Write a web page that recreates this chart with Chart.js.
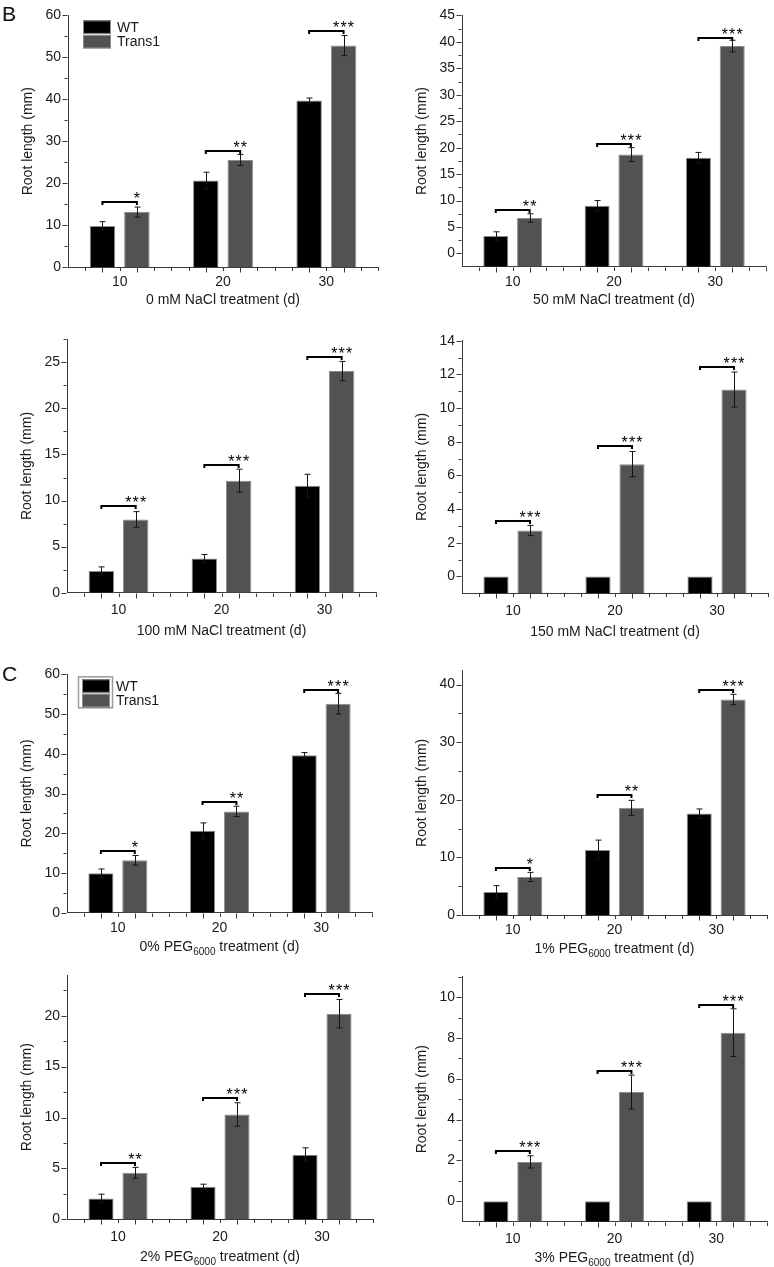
<!DOCTYPE html>
<html><head><meta charset="utf-8">
<script src="https://cdn.jsdelivr.net/npm/chart.js@4.4.0/dist/chart.umd.min.js"></script>
<style>
html,body{margin:0;padding:0;background:#fff;}
#wrap{position:relative;width:774px;height:1267px;overflow:hidden;background:#fff;}
canvas{position:absolute;left:0;top:0;}
.lbl{position:absolute;font-family:'Liberation Sans',Arial,sans-serif;font-size:21px;color:#111;line-height:1;}
</style></head><body><div id="wrap">
<div class="lbl" style="left:2px;top:3px">B</div>
<div class="lbl" style="left:2px;top:663px">C</div>
</div>
<script>
// ---------- data ----------
const categories = ['10', '20', '30'];
const seriesNames = ['WT', 'Trans1'];

// B: NaCl treatments
const wt_nacl0 = [9.8, 20.6, 39.7];
const wtErr_nacl0 = [1.0, 2.0, 0.6];
const tr_nacl0 = [13.1, 25.5, 52.8];
const trErr_nacl0 = [1.2, 1.3, 2.4];
const sig_nacl0 = ['*', '**', '***'];
const bracket_nacl0 = [15.5, 27.6, 56.3];
const yTicks_nacl0 = [0, 10, 20, 30, 40, 50, 60];

const wt_nacl50 = [3.3, 9.0, 18.1];
const wtErr_nacl50 = [0.8, 1.0, 1.0];
const tr_nacl50 = [6.7, 18.7, 39.2];
const trErr_nacl50 = [0.8, 1.3, 1.1];
const sig_nacl50 = ['**', '***', '***'];
const bracket_nacl50 = [8.3, 20.6, 40.8];
const yTicks_nacl50 = [0, 5, 10, 15, 20, 25, 30, 35, 40, 45];

const wt_nacl100 = [2.35, 3.7, 11.6];
const wtErr_nacl100 = [0.45, 0.45, 1.25];
const tr_nacl100 = [7.95, 12.15, 24.05];
const trErr_nacl100 = [0.85, 1.25, 1.05];
const sig_nacl100 = ['***', '***', '***'];
const bracket_nacl100 = [9.4, 13.9, 25.6];
const yTicks_nacl100 = [0, 5, 10, 15, 20, 25];

const wt_nacl150 = [0, 0, 0];
const wtErr_nacl150 = [0, 0, 0];
const tr_nacl150 = [2.73, 6.67, 11.1];
const trErr_nacl150 = [0.3, 0.75, 1.04];
const sig_nacl150 = ['***', '***', '***'];
const bracket_nacl150 = [3.32, 7.73, 12.46];
const yTicks_nacl150 = [0, 2, 4, 6, 8, 10, 12, 14];

// C: PEG6000 treatments
const wt_peg0 = [9.9, 20.6, 39.6];
const wtErr_peg0 = [1.1, 2.0, 0.7];
const tr_peg0 = [13.2, 25.5, 52.6];
const trErr_peg0 = [1.2, 1.3, 2.6];
const sig_peg0 = ['*', '**', '***'];
const bracket_peg0 = [15.6, 27.9, 56.1];
const yTicks_peg0 = [0, 10, 20, 30, 40, 50, 60];

const wt_peg1 = [4.0, 11.3, 17.6];
const wtErr_peg1 = [1.1, 1.7, 0.8];
const tr_peg1 = [6.6, 18.6, 37.4];
const trErr_peg1 = [0.8, 1.3, 0.9];
const sig_peg1 = ['*', '**', '***'];
const bracket_peg1 = [8.1, 20.8, 39.1];
const yTicks_peg1 = [0, 10, 20, 30, 40];

const wt_peg2 = [2.05, 3.2, 6.35];
const wtErr_peg2 = [0.42, 0.25, 0.67];
const tr_peg2 = [4.57, 10.3, 20.2];
const trErr_peg2 = [0.53, 1.15, 1.4];
const sig_peg2 = ['**', '***', '***'];
const bracket_peg2 = [5.55, 11.96, 22.1];
const yTicks_peg2 = [0, 5, 10, 15, 20];

const wt_peg3 = [0, 0, 0];
const wtErr_peg3 = [0, 0, 0];
const tr_peg3 = [1.93, 5.35, 8.26];
const trErr_peg3 = [0.3, 0.83, 1.17];
const sig_peg3 = ['***', '***', '***'];
const bracket_peg3 = [2.46, 6.38, 9.59];
const yTicks_peg3 = [0, 2, 4, 6, 8, 10];

// ---------- panel definitions ----------
const panels = [
  {title: '0 mM NaCl treatment (d)', wt: wt_nacl0, wtErr: wtErr_nacl0, tr: tr_nacl0, trErr: trErr_nacl0, sig: sig_nacl0, br: bracket_nacl0, ticks: yTicks_nacl0, min: 0, max: 60, minor: 5,
   L: 68, R: 378, T: 14, B: 267, xp: 6.6, xh: 41.4, legend: 'plain'},
  {title: '50 mM NaCl treatment (d)', wt: wt_nacl50, wtErr: wtErr_nacl50, tr: tr_nacl50, trErr: trErr_nacl50, sig: sig_nacl50, br: bracket_nacl50, ticks: yTicks_nacl50, min: -2.5, max: 45, minor: 2.5,
   L: 462, R: 766, T: 14.3, B: 266.7, xp: 6.6, xh: 41.4},
  {title: '100 mM NaCl treatment (d)', wt: wt_nacl100, wtErr: wtErr_nacl100, tr: tr_nacl100, trErr: trErr_nacl100, sig: sig_nacl100, br: bracket_nacl100, ticks: yTicks_nacl100, min: 0, max: 27.5, minor: 2.5,
   L: 67, R: 376, T: 339.3, B: 592.7, xp: 9.4, xh: 47},
  {title: '150 mM NaCl treatment (d)', wt: wt_nacl150, wtErr: wtErr_nacl150, tr: tr_nacl150, trErr: trErr_nacl150, sig: sig_nacl150, br: bracket_nacl150, ticks: yTicks_nacl150, min: -1, max: 14, minor: 1,
   L: 462, R: 768, T: 340.7, B: 593.3, xp: 9.4, xh: 47},
  {peg: ['0% PEG', '6000', ' treatment (d)'], wt: wt_peg0, wtErr: wtErr_peg0, tr: tr_peg0, trErr: trErr_peg0, sig: sig_peg0, br: bracket_peg0, ticks: yTicks_peg0, min: 0, max: 60, minor: 5,
   L: 67, R: 372, T: 674.3, B: 912.7, xp: 7, xh: 42.5, legend: 'box'},
  {peg: ['1% PEG', '6000', ' treatment (d)'], wt: wt_peg1, wtErr: wtErr_peg1, tr: tr_peg1, trErr: trErr_peg1, sig: sig_peg1, br: bracket_peg1, ticks: yTicks_peg1, min: 0, max: 42.4, minor: 5,
   L: 462, R: 767, T: 670.7, B: 915, xp: 7, xh: 42.5},
  {peg: ['2% PEG', '6000', ' treatment (d)'], wt: wt_peg2, wtErr: wtErr_peg2, tr: tr_peg2, trErr: trErr_peg2, sig: sig_peg2, br: bracket_peg2, ticks: yTicks_peg2, min: 0, max: 24, minor: 2.5,
   L: 67, R: 373, T: 975, B: 1219.3, xp: 9.4, xh: 46.5},
  {peg: ['3% PEG', '6000', ' treatment (d)'], wt: wt_peg3, wtErr: wtErr_peg3, tr: tr_peg3, trErr: trErr_peg3, sig: sig_peg3, br: bracket_peg3, ticks: yTicks_peg3, min: -1, max: 11, minor: 1,
   L: 462, R: 767, T: 976.7, B: 1221.7, xp: 9.4, xh: 45}
];

const FONT = "'Liberation Sans', Arial, Helvetica, sans-serif";
const TXT = '#1a1a1a';
const AXIS = '#3a3a3a';
const W = 774, H = 1267;
const YW = 48.4;

const annot = {
  id: 'annot',
  afterDatasetsDraw(chart) {
    const p = chart.options.plugins.annot;
    const ctx = chart.ctx, ys = chart.scales.y;
    const metas = [chart.getDatasetMeta(0), chart.getDatasetMeta(1)];
    ctx.save();
    // error bars
    ctx.strokeStyle = '#151515'; ctx.lineWidth = 1;
    metas.forEach((m, di) => {
      const vals = chart.data.datasets[di].data;
      const errs = di === 0 ? p.wtErr : p.trErr;
      m.data.forEach((bar, j) => {
        const e = errs[j]; if (!e) return;
        const xc = Math.round(bar.x) + 0.5;
        const yt = ys.getPixelForValue(vals[j] + e), yb = ys.getPixelForValue(vals[j] - e);
        ctx.beginPath();
        ctx.moveTo(xc, yt); ctx.lineTo(xc, yb);
        ctx.moveTo(xc - 3, yt); ctx.lineTo(xc + 3, yt);
        ctx.moveTo(xc - 3, yb); ctx.lineTo(xc + 3, yb);
        ctx.stroke();
      });
    });
    // significance brackets
    ctx.strokeStyle = '#000'; ctx.lineWidth = 2;
    ctx.fillStyle = '#000';
    ctx.font = '16px ' + FONT; ctx.textAlign = 'center'; ctx.textBaseline = 'alphabetic';
    p.br.forEach((v, j) => {
      const x0 = metas[0].data[j].x, x1 = metas[1].data[j].x;
      const yb = Math.round(ys.getPixelForValue(v));
      ctx.beginPath();
      ctx.moveTo(x0, yb + 3); ctx.lineTo(x0, yb); ctx.lineTo(x1, yb); ctx.lineTo(x1, yb + 3);
      ctx.stroke();
      const s = p.sig[j]; const n = s.length; const sp = 7.4;
      for (let k = 0; k < n; k++) {
        ctx.fillText('*', x1 + (k - (n - 1) / 2) * sp, yb + 2);
      }
    });
    ctx.restore();
  },
  afterDraw(chart) {
    const p = chart.options.plugins.annot;
    const ctx = chart.ctx, ys = chart.scales.y, xs = chart.scales.x;
    ctx.save();
    ctx.strokeStyle = AXIS; ctx.lineWidth = 1;
    // y ticks
    const ax = Math.round(xs.left) - 0.5;
    const majors = p.ticks;
    ctx.beginPath();
    majors.forEach(v => { const y = Math.round(ys.getPixelForValue(v)) + 0.5; ctx.moveTo(ax, y); ctx.lineTo(ax - 5, y); });
    for (let v = Math.ceil(p.min / p.minor) * p.minor; v <= p.max + 1e-9; v += p.minor) {
      if (majors.some(m => Math.abs(m - v) < 1e-6)) continue;
      if (Math.abs(v - p.min) < 1e-6) continue;
      const y = Math.round(ys.getPixelForValue(v)) + 0.5; ctx.moveTo(ax, y); ctx.lineTo(ax - 3, y);
    }
    // x ticks
    const by = Math.round(ys.bottom) + 0.5;
    const n = chart.data.labels.length;
    const cw = (xs.right - xs.left) / n;
    for (let k = 1; k <= n * 6; k++) {
      const x = Math.round(xs.left + k * cw / 6) + 0.5;
      const m = k % 6;
      const len = (m === 2 || m === 4) ? 5 : 3.5;
      ctx.moveTo(x, by); ctx.lineTo(x, by + len);
    }
    ctx.stroke();
    // PEG title with subscript
    if (p.peg) {
      const cx = (xs.left + xs.right) / 2, cy = xs.bottom - 8.4;
      const f1 = '14px ' + FONT, f2 = '10px ' + FONT;
      ctx.font = f1; const w1 = ctx.measureText(p.peg[0]).width, w3 = ctx.measureText(p.peg[2]).width;
      ctx.font = f2; const w2 = ctx.measureText(p.peg[1]).width;
      let x = cx - (w1 + w2 + w3) / 2;
      ctx.fillStyle = TXT; ctx.textAlign = 'left'; ctx.textBaseline = 'middle';
      ctx.font = f1; ctx.fillText(p.peg[0], x, cy); x += w1;
      ctx.font = f2; ctx.fillText(p.peg[1], x, cy + 5); x += w2;
      ctx.font = f1; ctx.fillText(p.peg[2], x, cy);
    }
    // legend
    if (p.legend) {
      const ca = chart.chartArea;
      const ds = chart.data.datasets;
      const lx = ca.left + 15, ly = ca.top + 5;
      if (p.legend === 'box') {
        ctx.strokeStyle = '#9a9a9a'; ctx.lineWidth = 1.5;
        ctx.strokeRect(lx - 3.5, ly - 2.5, 34, 31);
      }
      ds.forEach((d, i) => {
        const y0 = ly + i * 14.5;
        ctx.fillStyle = d.backgroundColor; ctx.fillRect(lx, y0, 28, 13.5);
        ctx.strokeStyle = '#8c8c8c'; ctx.lineWidth = 1; ctx.strokeRect(lx + 0.5, y0 + 0.5, 27, 12.5);
        ctx.fillStyle = TXT; ctx.font = '14px ' + FONT; ctx.textAlign = 'left'; ctx.textBaseline = 'middle';
        ctx.fillText(d.label, lx + 34, y0 + 7.5);
      });
    }
    ctx.restore();
  }
};

const wrap = document.getElementById('wrap');
panels.forEach((p) => {
  const cv = document.createElement('canvas');
  cv.width = W; cv.height = H;
  cv.style.width = W + 'px'; cv.style.height = H + 'px';
  wrap.appendChild(cv);
  const base = p.min < 0 ? p.min : undefined;
  const mk = (label, data, color) => {
    const d = {label, data, backgroundColor: color, borderColor: '#8c8c8c', borderWidth: 1,
      categoryPercentage: 2 / 3, barPercentage: 0.74};
    if (base !== undefined) d.base = base;
    return d;
  };
  new Chart(cv, {
    type: 'bar',
    data: {
      labels: categories,
      datasets: [mk(seriesNames[0], p.wt, '#000000'), mk(seriesNames[1], p.tr, '#525252')]
    },
    options: {
      responsive: false, animation: false, devicePixelRatio: 1,
      layout: {padding: {left: p.L - YW, right: W - p.R, top: p.T, bottom: Math.max(0, H - p.B - p.xh)}},
      plugins: {
        legend: {display: false}, tooltip: {enabled: false},
        annot: {wtErr: p.wtErr, trErr: p.trErr, sig: p.sig, br: p.br, ticks: p.ticks, min: p.min, max: p.max, minor: p.minor, peg: p.peg, legend: p.legend}
      },
      scales: {
        x: {
          type: 'category', offset: true,
          grid: {display: false, drawTicks: false},
          border: {display: true, color: AXIS, width: 1},
          ticks: {font: {family: FONT, size: 14}, color: TXT, padding: p.xp, maxRotation: 0, autoSkip: false},
          title: {display: !p.peg, text: p.title || '', font: {family: FONT, size: 14}, color: TXT, padding: 0},
          afterFit: s => { s.height = p.xh; }
        },
        y: {
          min: p.min, max: p.max,
          grid: {display: false, drawTicks: false},
          border: {display: true, color: AXIS, width: 1},
          ticks: {font: {family: FONT, size: 14}, color: TXT, padding: 7},
          afterBuildTicks: s => { s.ticks = p.ticks.map(v => ({value: v})); },
          title: {display: true, text: 'Root length (mm)', font: {family: FONT, size: 14}, color: TXT, padding: 0},
          afterFit: s => { s.width = YW; }
        }
      }
    },
    plugins: [annot]
  });
});
</script>
</body></html>
